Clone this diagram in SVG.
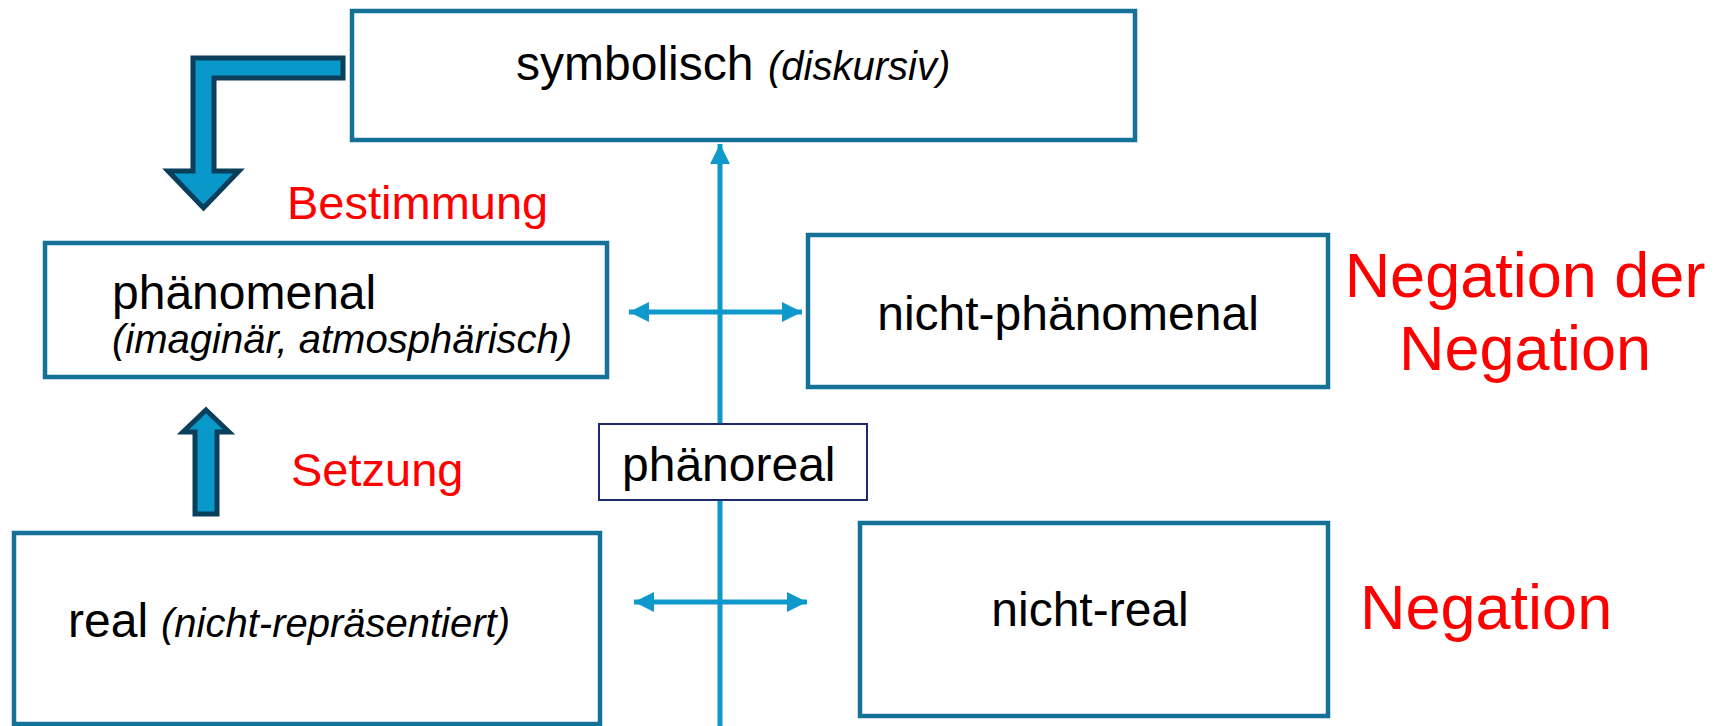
<svg xmlns="http://www.w3.org/2000/svg" width="1715" height="726" viewBox="0 0 1715 726">
<style>
.box{fill:#fff;stroke:#147197;stroke-width:4.5}
.small{fill:#fff;stroke:#1c2a6b;stroke-width:2}
.t{font-family:"Liberation Sans",Arial,sans-serif;font-size:48px;fill:#000}
.i{font-family:"Liberation Sans",Arial,sans-serif;font-size:40px;font-style:italic;fill:#000}
.r{font-family:"Liberation Sans",Arial,sans-serif;font-size:47px;fill:#ff0000}
.big{font-family:"Liberation Sans",Arial,sans-serif;font-size:63px;fill:#ff0000}
.line{stroke:#0e98cb;stroke-width:5;fill:none}
.blk{fill:#0898c9;stroke:#0a3f5c;stroke-width:5;stroke-linejoin:miter}
</style>
<defs>
<marker id="ah" viewBox="0 0 20 20" refX="20" refY="10" markerWidth="20" markerHeight="20" markerUnits="userSpaceOnUse" orient="auto-start-reverse">
<path d="M0,0 L20,10 L0,20 Z" fill="#0e98cb"/>
</marker>
</defs>
<g id="connectors">
<line class="line" x1="720" y1="726" x2="720" y2="144" marker-end="url(#ah)"/>
<line class="line" x1="629" y1="312" x2="802" y2="312" marker-start="url(#ah)" marker-end="url(#ah)"/>
<line class="line" x1="634" y1="602" x2="807" y2="602" marker-start="url(#ah)" marker-end="url(#ah)"/>
<path class="blk" d="M343,58 L193,58 L193,171 L168,171 L203.5,208 L239,171 L214,171 L214,78 L343,78 Z"/>
<path class="blk" d="M206,410 L229,432 L217,432 L217,514 L195,514 L195,432 L183,432 Z"/>
</g>
<g id="symbolisch">
<rect class="box" x="352" y="11" width="783" height="129"/>
<text class="t" x="516" y="80">symbolisch</text>
<text class="i" x="768" y="80">(diskursiv)</text>
</g>
<g id="phaenomenal">
<rect class="box" x="45" y="243" width="562" height="134"/>
<text class="t" x="112" y="309">phänomenal</text>
<text class="i" x="112" y="353">(imaginär, atmosphärisch)</text>
</g>
<g id="nicht-phaenomenal">
<rect class="box" x="808" y="235" width="520" height="152"/>
<text class="t" x="1068" y="330" text-anchor="middle">nicht-phänomenal</text>
</g>
<g id="phaenoreal">
<rect class="small" x="599" y="424" width="268" height="76"/>
<text class="t" x="622" y="481">phänoreal</text>
</g>
<g id="real">
<rect class="box" x="14" y="533" width="586" height="191"/>
<text class="t" x="68" y="637">real</text>
<text class="i" x="161" y="637">(nicht-repräsentiert)</text>
</g>
<g id="nicht-real">
<rect class="box" x="860" y="523" width="468" height="193"/>
<text class="t" x="1090" y="626" text-anchor="middle">nicht-real</text>
</g>
<g id="labels">
<text class="r" x="287" y="219">Bestimmung</text>
<text class="r" x="291" y="486">Setzung</text>
<text class="big" x="1525" y="297" text-anchor="middle">Negation der</text>
<text class="big" x="1525" y="370" text-anchor="middle">Negation</text>
<text class="big" x="1360" y="629">Negation</text>
</g>
</svg>
